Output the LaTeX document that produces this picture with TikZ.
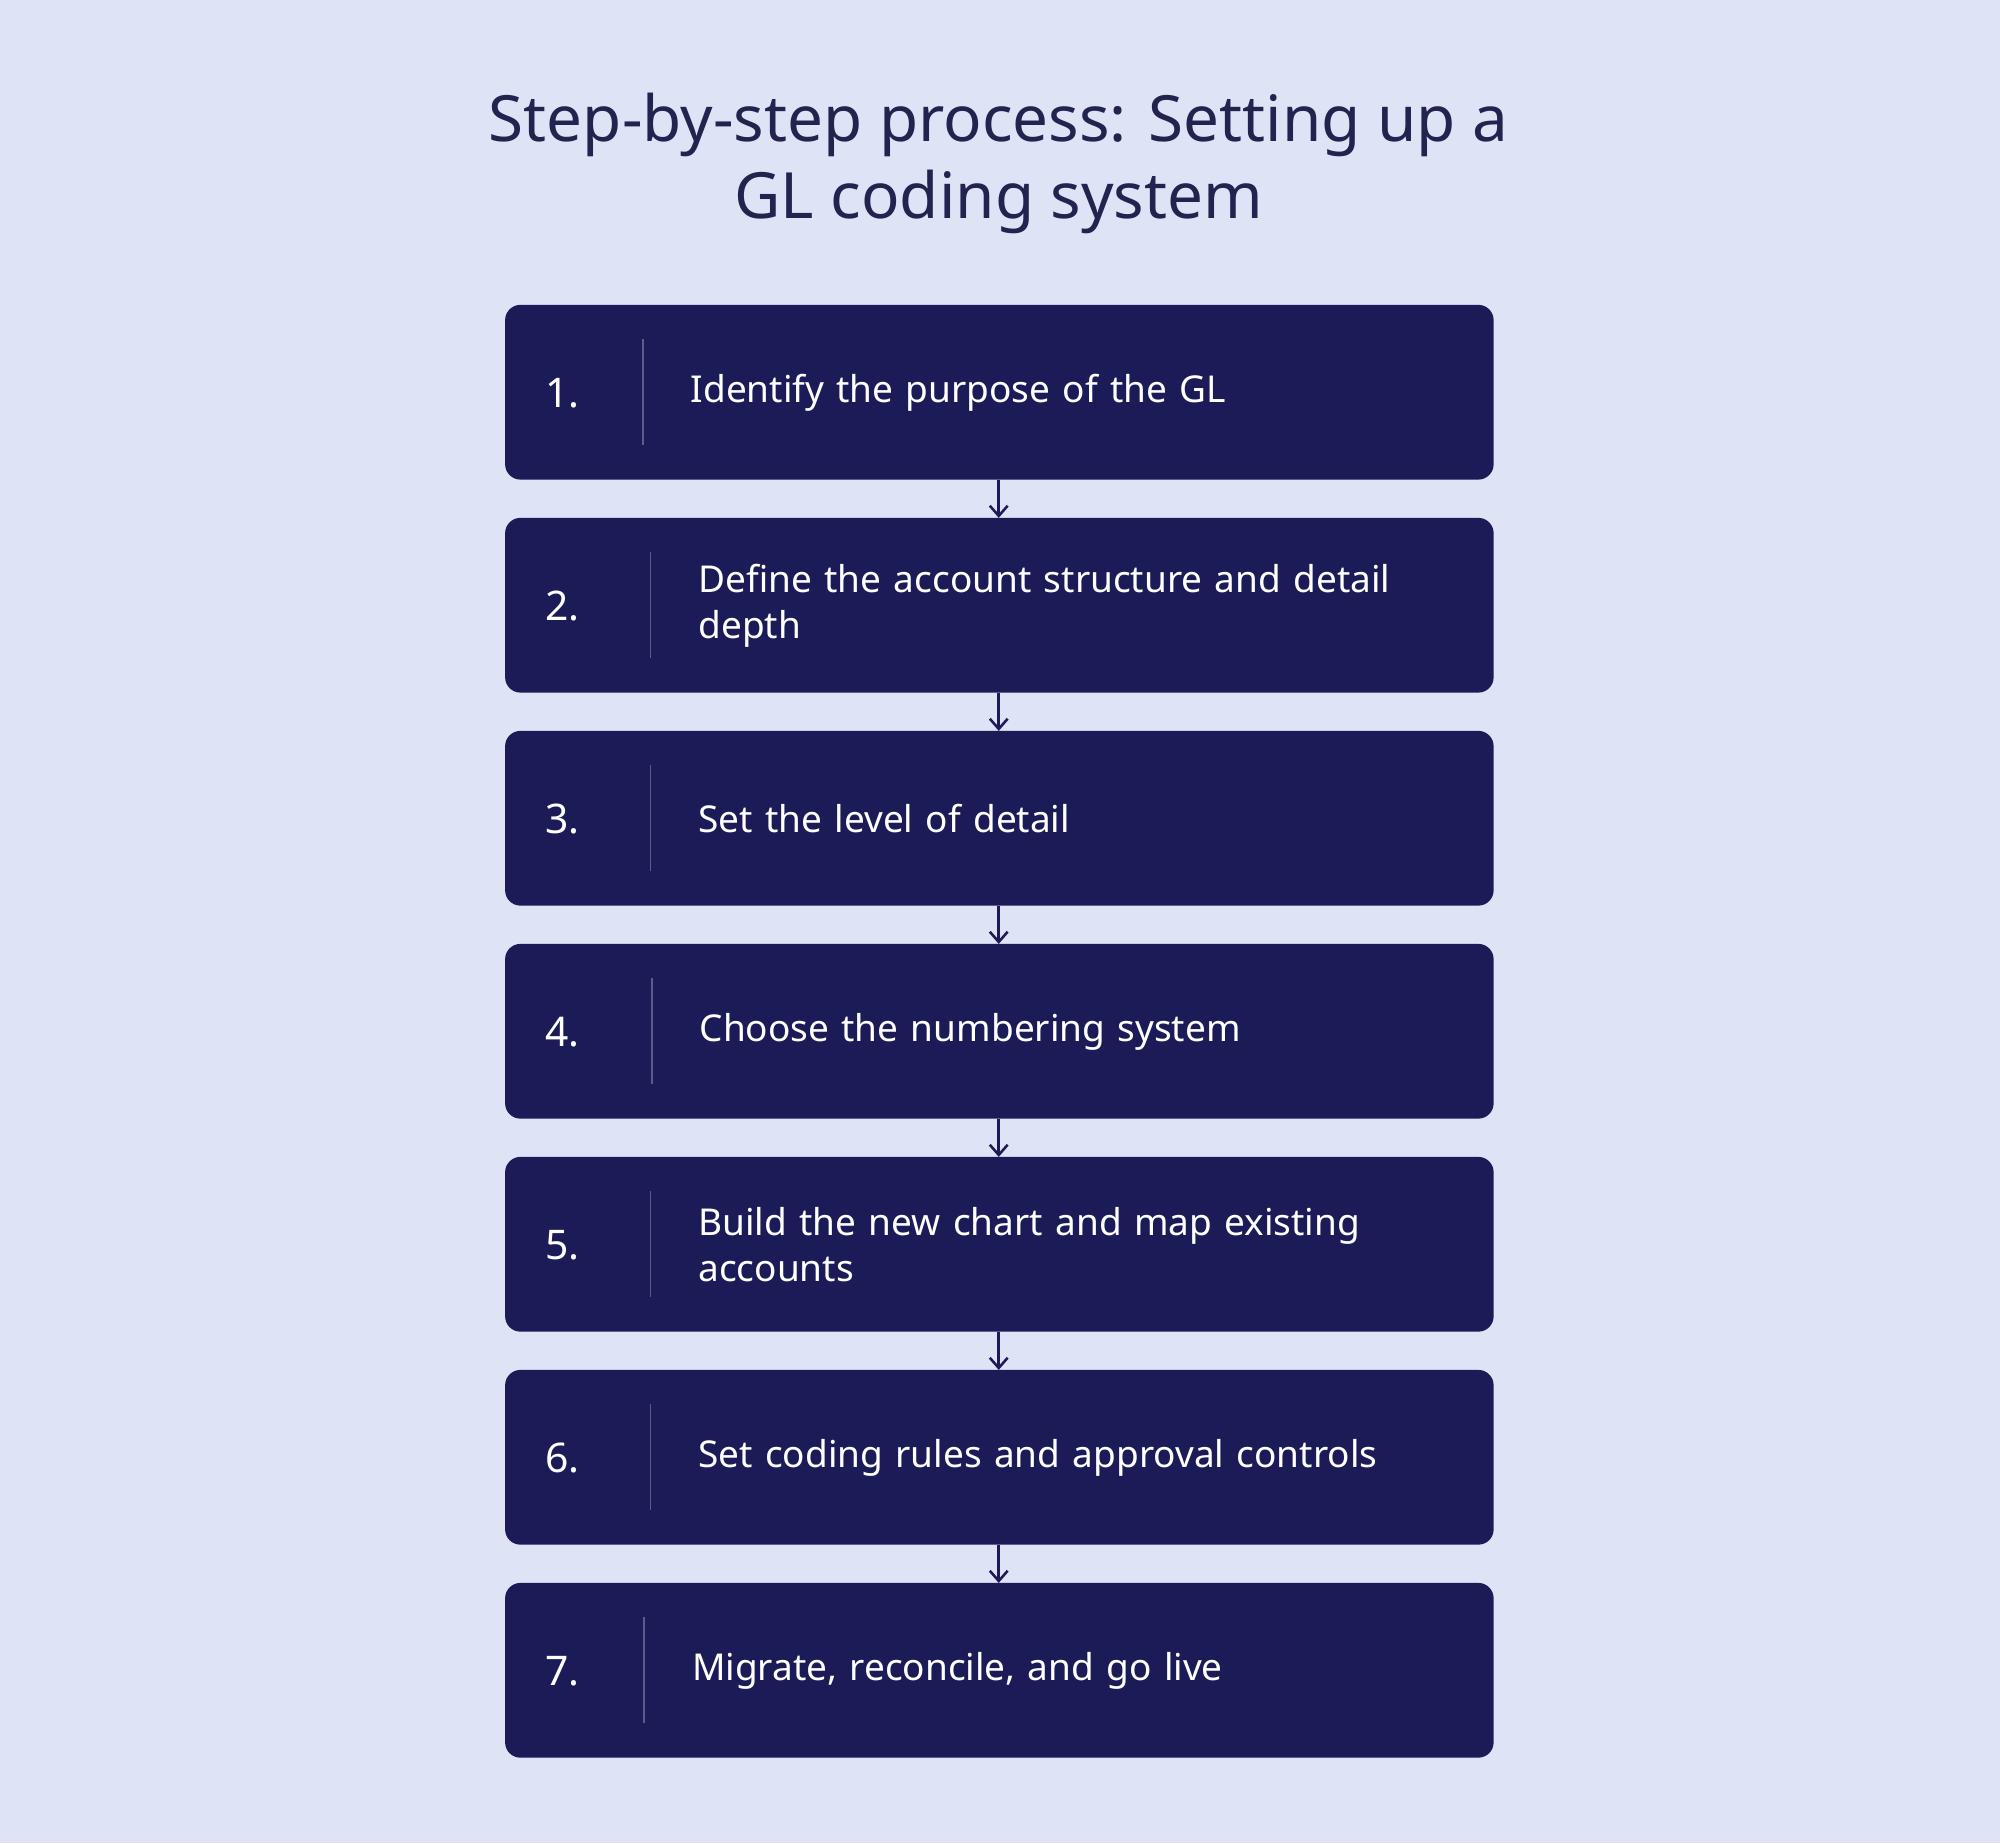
\documentclass[tikz,border=0pt]{standalone}
\usepackage{fontspec}
\setmainfont{Noto Sans}
\usetikzlibrary{arrows.meta}
\definecolor{bg}{HTML}{DFE3F6}
\definecolor{box}{HTML}{1B1B58}
\definecolor{ttl}{HTML}{22244F}
\definecolor{divl}{HTML}{5A5C8E}
\begin{document}
\begin{tikzpicture}[x=1pt,y=-1pt,
  stepbox/.style={fill=box,rounded corners=12pt},
  num/.style={text=white,font=\fontsize{32}{36}\selectfont\bfseries,anchor=west},
  lbl/.style={text=white,font=\fontsize{29}{36}\selectfont,anchor=west,align=left,text width=600pt},
  arr/.style={draw=box,line width=2pt,-{Straight Barb[length=8pt,width=14pt]}}]
\useasboundingbox[fill=bg] (0,0) rectangle (1568,1445);
\node[text=ttl,font=\fontsize{50}{60}\selectfont\bfseries,align=center] (title) at (783,128) {Step-by-step process: Setting up a\\GL coding system};
\foreach \i/\t/\dx in {1/Identify the purpose of the GL/0,
  2/{Define the account structure and detail\\depth}/6,
  3/Set the level of detail/6,
  4/Choose the numbering system/7,
  5/{Build the new chart and map existing\\accounts}/6,
  6/Set coding rules and approval controls/6,
  7/{Migrate, reconcile, and go live}/1}{
  \pgfmathsetmacro{\yt}{239+167*(\i-1)}
  \path[stepbox] (396,\yt) rectangle (1171,\yt+137);
  \coordinate (top\i) at (783,\yt);
  \coordinate (bot\i) at (783,\yt+137);
  \node[num] (n\i) at (424,\yt+69) {\i.};
  \draw[divl,line width=1.2pt] (504+\dx,\yt+27) -- (504+\dx,\yt+110);
  \node[lbl] (t\i) at (538+\dx,\yt+69) {\t};
}
\foreach \i [evaluate=\i as \j using int(\i+1)] in {1,...,6}{
  \draw[arr] (bot\i) -- (top\j);
}
\end{tikzpicture}
\end{document}
